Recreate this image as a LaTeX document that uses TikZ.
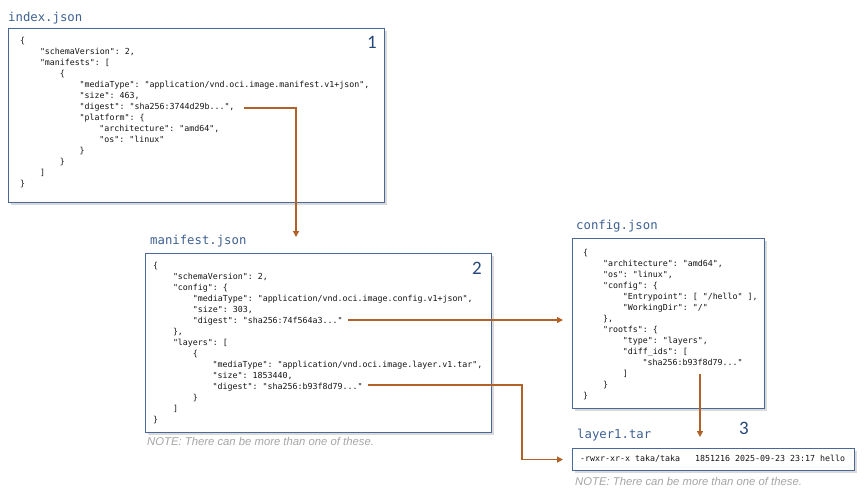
\documentclass[tikz,border=0pt]{standalone}
\usepackage{fontspec}
\setmainfont{Liberation Sans}
\setmonofont{DejaVu Sans Mono}
\newfontfamily\numfont{Carlito}
\usetikzlibrary{arrows.meta,shadows}
\definecolor{boxc}{RGB}{74,104,150}
\definecolor{titlec}{RGB}{62,96,146}
\definecolor{numc}{RGB}{38,72,122}
\definecolor{arrc}{RGB}{178,98,40}
\definecolor{codec}{RGB}{20,20,20}
\definecolor{notec}{RGB}{165,165,165}
\newlength\indw
\setlength\indw{19.8pt}
\newcommand\ind[1]{\hspace*{#1\indw}}
\tikzset{
  filebox/.style={draw=boxc, line width=1.1pt, fill=white, anchor=north west, inner sep=0pt,
    drop shadow={shadow xshift=2pt, shadow yshift=-2pt, opacity=0.25, fill=black!60}},
  ftitle/.style={anchor=base west, inner sep=0pt, text=titlec, font=\ttfamily\fontsize{12.3}{14}\selectfont},
  code/.style={anchor=north west, inner sep=0pt, align=left, text=codec, font=\ttfamily\fontsize{8.3}{11}\selectfont},
  numlab/.style={anchor=center, inner sep=0pt, text=numc, font=\numfont\fontsize{19}{20}\selectfont},
  note/.style={anchor=base west, inner sep=0pt, text=notec, font=\itshape\fontsize{11.3}{13}\selectfont},
  link/.style={draw=arrc, line width=1.3pt, -{Triangle[length=6pt,width=6pt]}}
}
\begin{document}
\begin{tikzpicture}[x=1pt,y=-1pt]
\useasboundingbox (0,0) rectangle (866,498);
% ---------- box 1: index.json
\node[ftitle] (t1) at (8,21) {index.json};
\node[filebox, minimum width=376pt, minimum height=174pt] (b1) at (8,28) {};
\node[numlab] (n1) at (372,42) {1};
\node[code] (c1) at (20,37) {\{\\
\ind{1}"schemaVersion": 2,\\
\ind{1}"manifests": [\\
\ind{2}\{\\
\ind{3}"mediaType": "application/vnd.oci.image.manifest.v1+json",\\
\ind{3}"size": 463,\\
\ind{3}"digest": "sha256:3744d29b...",\\
\ind{3}"platform": \{\\
\ind{4}"architecture": "amd64",\\
\ind{4}"os": "linux"\\
\ind{3}\}\\
\ind{2}\}\\
\ind{1}]\\
\}};
% ---------- box 2: manifest.json
\node[ftitle] (t2) at (150,244) {manifest.json};
\node[filebox, minimum width=346pt, minimum height=179pt] (b2) at (145,253) {};
\node[numlab] (n2) at (477,268) {2};
\node[code] (c2) at (153,261.5) {\{\\
\ind{1}"schemaVersion": 2,\\
\ind{1}"config": \{\\
\ind{2}"mediaType": "application/vnd.oci.image.config.v1+json",\\
\ind{2}"size": 303,\\
\ind{2}"digest": "sha256:74f564a3..."\\
\ind{1}\},\\
\ind{1}"layers": [\\
\ind{2}\{\\
\ind{3}"mediaType": "application/vnd.oci.image.layer.v1.tar",\\
\ind{3}"size": 1853440,\\
\ind{3}"digest": "sha256:b93f8d79..."\\
\ind{2}\}\\
\ind{1}]\\
\}};
\node[note] (nt2) at (147,445) {NOTE: There can be more than one of these.};
% ---------- box 3: config.json
\node[ftitle] (t3) at (576,229) {config.json};
\node[filebox, minimum width=192pt, minimum height=170pt] (b3) at (572,238) {};
\node[code] (c3) at (583,248.5) {\{\\
\ind{1}"architecture": "amd64",\\
\ind{1}"os": "linux",\\
\ind{1}"config": \{\\
\ind{2}"Entrypoint": [ "/hello" ],\\
\ind{2}"WorkingDir": "/"\\
\ind{1}\},\\
\ind{1}"rootfs": \{\\
\ind{2}"type": "layers",\\
\ind{2}"diff\_ids": [\\
\ind{3}"sha256:b93f8d79..."\\
\ind{2}]\\
\ind{1}\}\\
\}};
% ---------- box 4: layer1.tar
\node[ftitle] (t4) at (577,438) {layer1.tar};
\node[numlab] (n3) at (744,428) {3};
\node[filebox, minimum width=282pt, minimum height=22pt] (b4) at (572,448) {};
\node[code, anchor=west] (c4) at (580,459) {-rwxr-xr-x taka/taka\ \ \ 1851216 2025-09-23 23:17 hello};
\node[note] (nt4) at (575,485) {NOTE: There can be more than one of these.};
% ---------- connectors
\coordinate (d1) at (244,108);
\coordinate (e1) at (296,237);
\coordinate (d2) at (348,320);
\coordinate (d3) at (368,385);
\coordinate (k3) at (522,385);
\coordinate (d4) at (700,374);
\coordinate (e4) at (700,437);
\draw[link] (d1) -| (e1);
\draw[link, shorten >=9pt] (d2) -- (d2 -| b3.west);
\draw[link, shorten >=9pt] (d3) -- (k3) |- (b4.west);
\draw[link] (d4) -- (e4);
\end{tikzpicture}
\end{document}
